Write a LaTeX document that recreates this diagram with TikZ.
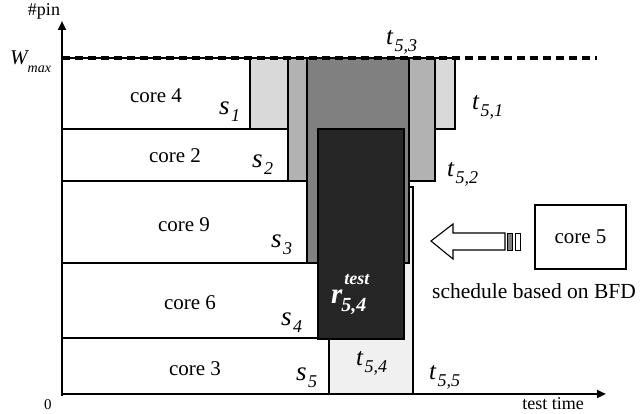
\documentclass[tikz,border=0pt]{standalone}
\usepackage{fontspec}
\setmainfont{Liberation Serif}
\usetikzlibrary{arrows.meta}
\newcommand{\fsz}[1]{\fontsize{#1}{#1}\selectfont}
\newcommand{\ilab}[4]{{\fsz{#3}\itshape #1}\hspace{1.5pt}\raisebox{-7pt}{\fsz{#4}\itshape #2}}
\definecolor{gA}{gray}{0.85}
\definecolor{gB}{gray}{0.70}
\definecolor{gC}{gray}{0.50}
\definecolor{gD}{gray}{0.15}
\definecolor{gE}{gray}{0.94}
\begin{document}
\begin{tikzpicture}[x=1pt,y=-1pt,
  box/.style={draw=black,line width=1.4pt},
  lbl/.style={inner sep=0pt,anchor=base west},
  corelbl/.style={inner sep=0pt,anchor=base,font=\fsz{21}},
  axis/.style={line width=2.6pt,-{Triangle[length=9pt,width=8pt]}},
]
\useasboundingbox (0,0) rectangle (641,414);
% core rectangles
\draw[box] (62,58) rectangle (250,129);
\draw[box] (62,129) rectangle (288,181);
\draw[box] (62,181) rectangle (307,263);
\draw[box] (62,263) rectangle (318,338);
\draw[box] (62,338) rectangle (329,394);
% core 5 test areas
\draw[box,fill=gA] (250,58) rectangle (455,129);
\draw[box,fill=gB] (288,58) rectangle (435,181);
\draw[box,fill=gE] (329,187) rectangle (413,394);
\draw[box,fill=gC] (307,58) rectangle (409,263);
\draw[box,fill=gD,draw=black] (318,129) rectangle (404,339);
% Wmax dashed
\draw[line width=3.4pt,dash pattern=on 8pt off 5pt] (62,58) -- (597,58);
% axes
\coordinate (ytop) at (62,21);
\coordinate (xend) at (606,394);
\draw[axis] (62,396) -- (ytop);
\draw[axis] (61,394) -- (xend);
% axis labels
\node[inner sep=0pt,anchor=base,font=\fsz{18}] (pin) at (44,16) {\#pin};
\node[lbl] (wmax) at (10,65) {{\fsz{21}\itshape W}\raisebox{-8pt}{\fsz{14}\itshape max}};
\node[inner sep=0pt,anchor=base,font=\fsz{15}] (zero) at (48,410) {0};
\node[inner sep=0pt,anchor=base,font=\fsz{18}] (tt) at (553,410) {test time};
% core labels
\node[corelbl] (c4) at (156,103) {core 4};
\node[corelbl] (c2) at (175,163) {core 2};
\node[corelbl] (c9) at (184,232) {core 9};
\node[corelbl] (c6) at (190,310) {core 6};
\node[corelbl] (c3) at (195,376) {core 3};
% s labels
\node[lbl] (s1) at (219,115) {\ilab{s}{1}{27}{18}};
\node[lbl] (s2) at (252,168) {\ilab{s}{2}{27}{18}};
\node[lbl] (s3) at (271,248) {\ilab{s}{3}{27}{18}};
\node[lbl] (s4) at (281,326) {\ilab{s}{4}{27}{18}};
\node[lbl] (s5) at (296,381) {\ilab{s}{5}{27}{18}};
% t labels
\node[lbl] (t53) at (386,45) {\ilab{t}{5,3}{25}{18}};
\node[lbl] (t51) at (472,110) {\ilab{t}{5,1}{25}{18}};
\node[lbl] (t52) at (447,177) {\ilab{t}{5,2}{25}{18}};
\node[lbl] (t54) at (356,366) {\ilab{t}{5,4}{25}{18}};
\node[lbl] (t55) at (429,380) {\ilab{t}{5,5}{25}{18}};
% r test label
\node[lbl,text=white] (r54) at (331,304) {{\fsz{29}\bfseries\itshape r}\makebox[0pt][l]{\hspace{2pt}\raisebox{19pt}{\fsz{18}\bfseries\itshape test}}\hspace{-1pt}\raisebox{-8pt}{\fsz{20}\bfseries\itshape 5,4}};
% core 5 box
\node[draw=black,line width=1.4pt,minimum width=91pt,minimum height=64pt,inner sep=0pt,font=\fsz{21}] (c5) at (580.5,237) {core 5};
% striped arrow
\draw[line width=1.1pt,fill=white] (431,241) -- (453,224) -- (453,233) -- (505,233) -- (505,250) -- (453,250) -- (453,259) -- cycle;
\draw[line width=0.9pt,fill=gC] (507,233) rectangle (512,250);
\draw[line width=0.9pt,fill=white] (515,233) rectangle (520,250);
\node[inner sep=0pt,anchor=base,font=\fsz{21.5}] (sched) at (534,299) {schedule based on BFD};
\end{tikzpicture}
\end{document}
